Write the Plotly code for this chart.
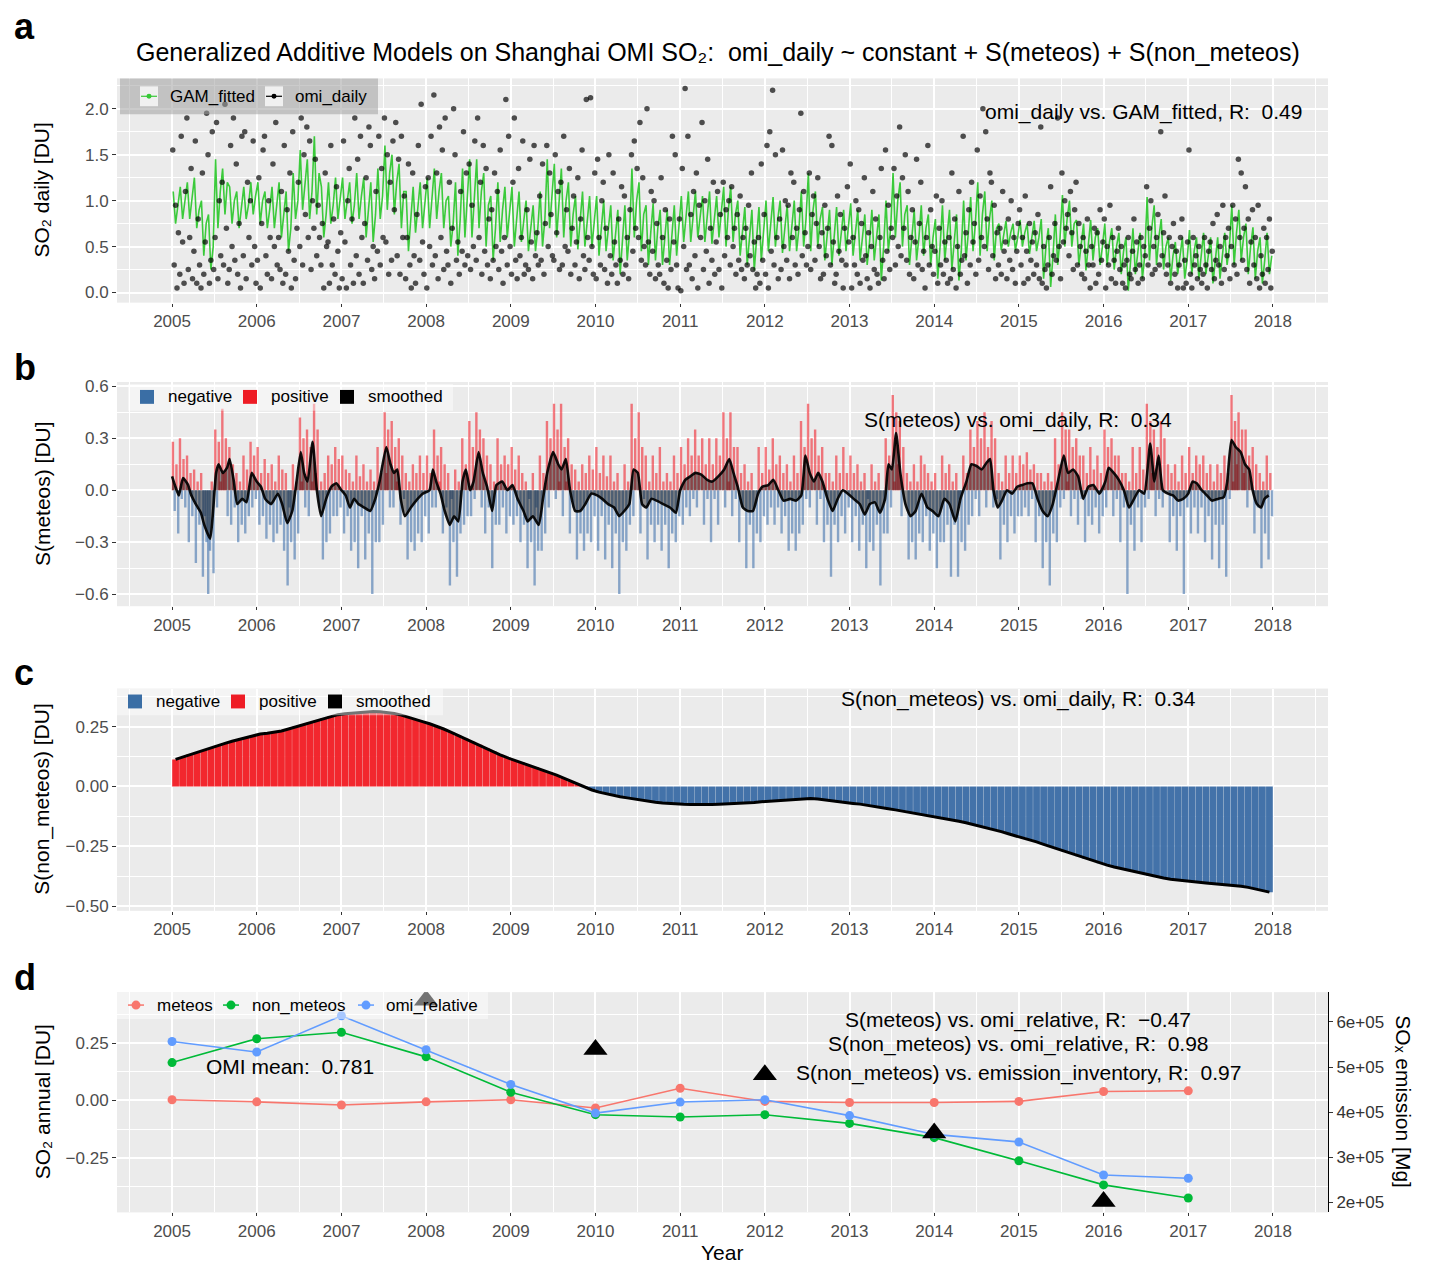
import plotly.graph_objects as go

# ======================= DATA =======================
START_YEAR = 2005
year_ticks = list(range(2005, 2019))

# Panel a: GAM_fitted, 3 values per month (2005-01 .. 2017-12)
gam_fitted = [
    # 2005
    1.10, 0.75, 0.95, 1.15, 0.80, 1.00, 1.20, 0.80, 1.05, 1.25, 0.70, 0.90, 1.00, 0.40, 0.75, 0.85, 0.25, 0.50,
    1.45, 0.70, 1.10, 1.35, 0.85, 1.20, 1.15, 0.75, 1.00, 1.10, 0.70, 0.90, 1.15, 0.80, 0.95, 1.20, 0.85, 1.05,
    # 2006
    1.20, 0.75, 1.00, 1.10, 0.70, 0.90, 1.15, 0.70, 0.95, 1.20, 0.60, 0.85, 1.10, 0.45, 0.70, 1.30, 0.80, 1.00,
    1.55, 0.90, 1.20, 1.45, 0.80, 1.10, 1.70, 0.85, 1.30, 1.15, 0.60, 0.85, 1.20, 0.75, 0.95, 1.25, 0.80, 1.05,
    # 2007
    1.25, 0.80, 1.00, 1.20, 0.75, 0.95, 1.30, 0.80, 1.05, 1.25, 0.60, 0.90, 1.20, 0.55, 0.85, 1.35, 0.80, 1.05,
    1.60, 0.90, 1.30, 1.50, 0.85, 1.20, 1.40, 0.70, 1.10, 1.10, 0.45, 0.80, 1.15, 0.65, 0.90, 1.20, 0.70, 0.95,
    # 2008
    1.25, 0.70, 1.00, 1.35, 0.80, 1.10, 1.30, 0.70, 1.00, 1.05, 0.50, 0.75, 1.20, 0.40, 0.80, 1.35, 0.60, 1.00,
    1.45, 0.60, 1.05, 1.45, 0.70, 1.10, 1.30, 0.50, 0.95, 1.05, 0.35, 0.70, 1.20, 0.55, 0.90, 1.15, 0.60, 0.85,
    # 2009
    1.15, 0.50, 0.85, 1.10, 0.55, 0.80, 1.00, 0.45, 0.70, 0.95, 0.45, 0.70, 1.10, 0.50, 0.80, 1.45, 0.70, 1.05,
    1.40, 0.60, 1.00, 1.35, 0.60, 1.00, 1.20, 0.50, 0.85, 1.05, 0.47, 0.75, 1.10, 0.50, 0.80, 1.05, 0.50, 0.75,
    # 2010
    1.05, 0.40, 0.75, 1.00, 0.45, 0.70, 0.95, 0.35, 0.65, 0.90, 0.20, 0.55, 0.95, 0.35, 0.65, 1.35, 0.60, 1.00,
    1.20, 0.45, 0.85, 0.95, 0.30, 0.65, 0.97, 0.35, 0.70, 0.90, 0.30, 0.60, 0.90, 0.30, 0.60, 0.95, 0.40, 0.70,
    # 2011
    1.05, 0.55, 0.80, 1.10, 0.55, 0.85, 1.10, 0.60, 0.85, 1.05, 0.55, 0.80, 1.10, 0.53, 0.80, 1.05, 0.60, 0.85,
    1.15, 0.50, 0.90, 1.15, 0.55, 0.85, 1.00, 0.40, 0.70, 0.93, 0.30, 0.60, 0.90, 0.24, 0.55, 0.93, 0.35, 0.65,
    # 2012
    1.00, 0.45, 0.75, 1.04, 0.50, 0.80, 1.00, 0.43, 0.70, 0.95, 0.45, 0.70, 1.00, 0.45, 0.70, 1.10, 0.50, 0.80,
    1.30, 0.45, 0.90, 1.10, 0.50, 0.80, 0.93, 0.35, 0.65, 0.90, 0.30, 0.60, 0.93, 0.40, 0.65, 0.90, 0.45, 0.70,
    # 2013
    0.97, 0.40, 0.65, 0.90, 0.35, 0.60, 0.85, 0.30, 0.55, 0.90, 0.35, 0.60, 0.85, 0.13, 0.50, 1.00, 0.45, 0.70,
    1.30, 0.60, 1.00, 1.20, 0.50, 0.85, 0.95, 0.30, 0.60, 0.90, 0.35, 0.60, 0.95, 0.40, 0.70, 0.85, 0.30, 0.60,
    # 2014
    0.80, 0.15, 0.50, 0.95, 0.35, 0.65, 0.90, 0.25, 0.55, 0.85, 0.13, 0.45, 1.00, 0.35, 0.65, 1.04, 0.45, 0.75,
    1.20, 0.40, 0.85, 1.10, 0.45, 0.80, 1.00, 0.35, 0.70, 0.75, 0.46, 0.60, 0.78, 0.50, 0.65, 0.75, 0.46, 0.60,
    # 2015
    0.79, 0.50, 0.65, 0.75, 0.42, 0.60, 0.78, 0.45, 0.60, 0.80, 0.15, 0.50, 0.70, 0.06, 0.40, 0.85, 0.30, 0.60,
    1.06, 0.50, 0.80, 1.00, 0.50, 0.75, 0.79, 0.30, 0.55, 0.75, 0.24, 0.50, 0.79, 0.35, 0.60, 0.70, 0.30, 0.50,
    # 2016
    0.75, 0.30, 0.55, 0.70, 0.25, 0.50, 0.65, 0.20, 0.45, 0.60, 0.02, 0.35, 0.70, 0.20, 0.45, 0.65, 0.15, 0.40,
    1.04, 0.35, 0.70, 0.95, 0.30, 0.60, 0.80, 0.25, 0.50, 0.60, 0.13, 0.40, 0.55, 0.20, 0.40, 0.60, 0.15, 0.35,
    # 2017
    0.68, 0.20, 0.45, 0.60, 0.15, 0.40, 0.65, 0.20, 0.40, 0.60, 0.10, 0.35, 0.60, 0.15, 0.40, 0.65, 0.30, 0.50,
    0.95, 0.30, 0.65, 0.90, 0.35, 0.60, 0.75, 0.20, 0.50, 0.71, 0.15, 0.45, 0.60, 0.10, 0.35, 0.65, 0.20, 0.40,
]

# Panel a: omi_daily observations, 5 per month
omi_daily = [
    # 2005
    1.55, 0.30, 0.95, 0.05, 0.65, 0.20, 1.70, 0.55, 0.10, 1.10, 1.90, 0.25, 0.60, 1.35, 0.15, 0.45, 1.65, 0.10, 0.80, 0.30,
    0.05, 1.30, 0.20, 0.55, 1.95, 1.50, 0.10, 0.35, 1.75, 0.25, 0.60, 1.85, 0.15, 1.00, 0.40, 1.20, 0.30, 2.05, 0.70, 0.10,
    0.25, 1.60, 0.50, 1.90, 0.35, 1.40, 0.20, 0.75, 0.05, 1.70, 0.40, 1.75, 0.15, 1.20, 0.60, 1.00, 0.30, 1.65, 0.50, 0.10,
    # 2006
    0.35, 1.25, 0.05, 0.75, 1.55, 1.70, 0.40, 0.20, 1.00, 0.60, 0.15, 1.40, 0.50, 1.85, 0.30, 0.60, 0.25, 1.10, 0.10, 1.60,
    0.20, 0.90, 0.45, 1.30, 0.05, 1.75, 0.35, 0.15, 0.70, 1.20, 0.50, 1.90, 0.30, 1.50, 0.85, 1.80, 0.60, 1.65, 0.25, 1.00,
    0.70, 1.45, 0.40, 0.95, 0.60, 0.30, 0.75, 0.05, 1.30, 0.50, 0.55, 0.10, 1.60, 0.30, 0.80, 0.20, 1.15, 0.45, 0.05, 0.65,
    # 2007
    0.15, 1.65, 0.55, 0.05, 1.00, 1.35, 0.30, 0.80, 0.10, 1.90, 0.40, 1.45, 0.20, 1.70, 0.60, 0.10, 0.75, 1.25, 0.35, 1.80,
    1.60, 0.25, 0.50, 0.15, 1.10, 0.45, 1.70, 0.30, 1.35, 0.60, 1.90, 0.55, 1.50, 0.20, 1.20, 0.35, 1.65, 0.90, 1.85, 0.40,
    1.45, 0.20, 1.70, 0.60, 1.05, 0.15, 0.60, 1.40, 0.30, 0.05, 1.30, 0.40, 0.10, 0.85, 1.60, 0.35, 2.05, 0.55, 0.20, 1.15,
    # 2008
    0.05, 1.25, 0.50, 1.70, 0.30, 2.15, 0.40, 1.30, 0.15, 1.80, 0.60, 1.55, 0.25, 1.90, 0.45, 0.30, 1.20, 0.10, 0.70, 2.00,
    1.50, 0.35, 0.55, 0.20, 1.10, 0.45, 1.75, 0.30, 1.30, 0.40, 1.40, 0.25, 0.95, 0.50, 1.65, 0.35, 1.90, 0.60, 1.20, 0.20,
    1.60, 0.45, 1.35, 0.30, 0.80, 0.15, 0.90, 0.35, 1.30, 0.50, 1.10, 0.25, 1.55, 0.45, 0.10, 0.60, 2.10, 0.30, 1.70, 0.50,
    # 2009
    0.20, 1.20, 1.90, 0.35, 0.15, 1.35, 0.40, 0.60, 1.65, 0.20, 0.30, 0.90, 0.25, 1.45, 0.55, 0.15, 1.60, 0.40, 0.65, 0.30,
    1.05, 0.35, 1.40, 0.20, 0.75, 1.60, 0.50, 1.30, 0.85, 0.40, 0.35, 1.50, 0.65, 1.10, 0.25, 1.20, 0.30, 1.70, 0.50, 0.90,
    0.45, 1.35, 0.20, 0.70, 1.05, 0.30, 0.55, 1.25, 0.15, 0.80, 1.55, 0.40, 0.25, 2.10, 0.60, 0.35, 2.12, 0.50, 0.20, 1.30,
    # 2010
    0.15, 1.45, 0.60, 0.30, 1.00, 1.20, 0.25, 0.70, 0.10, 1.50, 0.40, 0.20, 1.30, 0.55, 0.30, 0.10, 0.80, 0.35, 1.15, 0.20,
    1.05, 0.30, 0.60, 0.15, 0.90, 1.50, 0.45, 1.65, 0.70, 1.35, 0.60, 1.85, 0.35, 1.25, 0.50, 0.30, 2.00, 0.55, 0.20, 1.10,
    0.45, 1.00, 0.15, 0.75, 0.30, 0.20, 1.25, 0.60, 0.10, 0.90, 0.35, 0.05, 0.80, 0.25, 1.70, 0.55, 1.50, 0.30, 0.05, 0.80,
    # 2011
    0.02, 1.35, 0.50, 2.22, 0.25, 1.70, 0.30, 0.85, 0.15, 1.10, 0.40, 1.30, 0.05, 0.95, 0.60, 1.85, 0.25, 1.00, 0.45, 1.45,
    0.10, 0.70, 0.35, 1.20, 0.20, 0.55, 1.10, 0.25, 0.85, 0.05, 1.20, 0.40, 0.90, 0.60, 1.00, 0.30, 1.15, 0.50, 0.70, 0.20,
    0.85, 0.35, 1.05, 0.25, 0.60, 0.15, 0.70, 0.30, 0.95, 0.40, 1.30, 0.25, 0.55, 0.05, 0.20, 0.60, 0.10, 1.40, 0.35, 0.85,
    # 2012
    0.20, 1.60, 0.05, 1.75, 0.45, 2.20, 0.30, 1.50, 0.60, 0.15, 0.80, 0.25, 1.55, 0.50, 1.00, 0.35, 0.95, 0.15, 1.30, 0.60,
    1.20, 0.30, 0.70, 0.20, 0.90, 1.95, 0.40, 1.10, 0.65, 0.30, 0.50, 1.30, 0.25, 0.85, 1.05, 0.35, 0.75, 1.25, 0.50, 0.15,
    0.65, 0.20, 0.95, 0.40, 0.70, 1.70, 0.30, 1.60, 0.55, 0.10, 0.20, 1.05, 0.45, 0.85, 0.35, 0.05, 0.70, 0.30, 1.15, 0.55,
    # 2013
    1.40, 0.05, 0.60, 0.30, 1.00, 0.20, 0.90, 0.10, 0.75, 0.35, 1.25, 0.40, 0.15, 0.65, 0.05, 0.50, 1.10, 0.25, 0.80, 0.20,
    0.10, 0.60, 1.35, 0.35, 0.15, 1.55, 0.45, 0.95, 0.25, 0.70, 0.60, 1.35, 0.30, 1.05, 0.50, 1.80, 0.40, 1.25, 0.70, 1.50,
    0.35, 1.10, 0.20, 0.60, 0.90, 0.15, 0.55, 1.45, 0.30, 0.75, 1.20, 0.25, 0.45, 0.05, 0.60, 1.60, 0.30, 0.90, 0.50, 0.20,
    # 2014
    0.45, 1.05, 0.10, 0.70, 0.30, 1.00, 0.20, 0.55, 0.35, 0.10, 0.60, 0.15, 1.30, 0.25, 0.80, 0.05, 0.50, 1.10, 0.20, 0.35,
    1.70, 0.40, 0.65, 0.10, 0.90, 0.30, 1.20, 0.55, 0.75, 0.20, 1.55, 0.35, 1.05, 0.60, 2.00, 0.50, 1.75, 0.80, 0.25, 1.30,
    1.20, 0.40, 0.95, 0.15, 0.65, 0.30, 0.70, 0.20, 1.10, 0.45, 0.55, 0.15, 0.80, 0.35, 1.00, 0.25, 0.60, 0.10, 0.45, 0.75,
    # 2015
    0.90, 0.30, 0.60, 0.10, 1.05, 0.45, 0.15, 0.75, 0.35, 0.55, 0.20, 0.65, 0.30, 0.85, 0.15, 1.80, 0.10, 0.50, 0.25, 0.05,
    0.30, 0.60, 1.15, 0.20, 0.40, 0.75, 0.35, 1.90, 0.50, 0.15, 1.30, 0.55, 1.00, 0.70, 0.85, 0.40, 1.10, 0.65, 0.25, 0.90,
    1.20, 0.30, 0.75, 0.50, 0.20, 0.60, 0.15, 0.45, 0.80, 0.30, 0.05, 0.50, 0.30, 0.70, 0.10, 0.65, 0.20, 0.90, 0.35, 0.55,
    # 2016
    0.80, 0.05, 0.50, 0.30, 0.95, 0.15, 0.60, 0.35, 0.10, 0.45, 0.70, 0.25, 0.50, 0.10, 0.30, 0.05, 0.35, 0.60, 0.20, 0.15,
    0.45, 0.80, 0.25, 0.55, 0.10, 0.30, 0.60, 0.15, 0.50, 0.40, 1.15, 0.30, 0.70, 1.00, 0.20, 0.50, 0.25, 0.60, 0.85, 0.30,
    1.75, 0.40, 0.65, 1.05, 0.20, 0.30, 0.60, 0.10, 0.50, 0.75, 0.20, 0.45, 0.05, 0.30, 0.60, 0.80, 0.05, 0.35, 0.10, 0.55,
    # 2017
    1.55, 0.20, 0.05, 0.60, 0.30, 0.40, 0.15, 0.50, 0.25, 0.10, 0.20, 0.60, 0.30, 0.05, 0.45, 0.55, 0.25, 0.75, 0.15, 0.35,
    0.85, 0.30, 0.50, 0.10, 0.95, 0.25, 0.60, 0.40, 0.70, 0.15, 0.50, 0.95, 0.30, 0.80, 0.20, 1.45, 0.60, 1.30, 0.35, 0.70,
    1.15, 0.25, 0.80, 0.10, 0.55, 0.90, 0.30, 0.60, 0.15, 0.95, 0.05, 0.40, 0.20, 0.70, 0.10, 0.60, 0.25, 0.80, 0.05, 0.45,
]

# Panel b: S(meteos) daily contributions, 4 per month
meteos_daily = [
    # 2005
    0.28, -0.12, 0.15, -0.25, 0.30, -0.05, 0.18, -0.10, 0.20, -0.30, 0.10, -0.15, 0.12, -0.42, 0.05, -0.20,
    0.10, -0.50, -0.15, -0.30, -0.60, -0.35, 0.05, -0.48, 0.35, -0.10, 0.28, 0.05, 0.47, 0.10, 0.30, -0.15,
    0.25, -0.20, 0.15, -0.10, 0.10, -0.30, 0.05, -0.20, 0.20, -0.25, 0.12, -0.15, 0.28, -0.10, 0.20, -0.05,
    # 2006
    0.25, -0.20, 0.10, -0.15, 0.18, -0.28, 0.10, -0.20, 0.15, -0.30, 0.05, -0.25, 0.20, -0.20, 0.12, -0.35,
    0.10, -0.55, -0.10, -0.30, 0.15, -0.40, 0.05, -0.25, 0.42, 0.05, 0.30, -0.10, 0.35, -0.15, 0.25, 0.05,
    0.50, 0.10, 0.35, -0.10, 0.05, -0.40, 0.10, -0.30, 0.20, -0.25, 0.15, -0.15, 0.25, -0.15, 0.18, -0.10,
    # 2007
    0.20, -0.25, 0.12, -0.15, 0.10, -0.35, 0.05, -0.30, 0.20, -0.45, 0.08, -0.15, 0.15, -0.40, 0.05, -0.25,
    0.12, -0.60, 0.05, -0.30, 0.25, -0.30, 0.10, -0.20, 0.45, 0.10, 0.35, -0.10, 0.40, -0.10, 0.25, 0.05,
    0.30, -0.20, 0.20, -0.05, 0.10, -0.40, 0.05, -0.30, 0.15, -0.35, 0.10, -0.25, 0.20, -0.30, 0.10, -0.15,
    # 2008
    0.20, -0.25, 0.10, -0.10, 0.35, -0.10, 0.20, 0.05, 0.25, -0.25, 0.15, -0.10, 0.10, -0.55, -0.05, -0.30,
    0.12, -0.50, 0.05, -0.25, 0.30, -0.20, 0.15, -0.15, 0.40, -0.15, 0.25, -0.05, 0.45, 0.00, 0.35, -0.10,
    0.30, -0.25, 0.20, -0.10, 0.15, -0.45, 0.05, -0.20, 0.30, -0.20, 0.15, -0.10, 0.20, -0.25, 0.15, -0.15,
    # 2009
    0.25, -0.20, 0.12, -0.15, 0.20, -0.30, 0.10, -0.20, 0.05, -0.45, -0.05, -0.30, 0.10, -0.55, -0.10, -0.35,
    0.20, -0.35, 0.10, -0.25, 0.40, -0.10, 0.30, 0.00, 0.50, -0.05, 0.35, 0.05, 0.50, -0.15, 0.25, 0.05,
    0.30, -0.25, 0.15, -0.10, 0.12, -0.40, 0.05, -0.25, 0.15, -0.35, 0.10, -0.25, 0.20, -0.30, 0.12, -0.15,
    # 2010
    0.25, -0.35, 0.10, -0.15, 0.20, -0.40, 0.08, -0.20, 0.20, -0.45, 0.05, -0.25, 0.10, -0.60, 0.00, -0.30,
    0.15, -0.35, 0.05, -0.20, 0.50, -0.15, 0.30, 0.00, 0.45, -0.25, 0.25, -0.05, 0.20, -0.40, 0.05, -0.20,
    0.20, -0.30, 0.10, -0.20, 0.25, -0.35, 0.05, -0.20, 0.10, -0.45, 0.05, -0.25, 0.20, -0.30, 0.10, -0.15,
    # 2011
    0.25, -0.20, 0.15, -0.10, 0.30, -0.15, 0.20, -0.05, 0.35, -0.10, 0.20, 0.00, 0.30, -0.20, 0.15, -0.05,
    0.30, -0.30, 0.15, -0.05, 0.30, -0.20, 0.20, 0.00, 0.45, -0.10, 0.30, 0.05, 0.45, -0.15, 0.25, -0.05,
    0.25, -0.30, 0.10, -0.10, 0.15, -0.45, 0.05, -0.20, 0.10, -0.45, 0.00, -0.25, 0.25, -0.30, 0.10, -0.15,
    # 2012
    0.25, -0.20, 0.12, -0.10, 0.30, -0.20, 0.15, -0.10, 0.20, -0.25, 0.10, -0.15, 0.15, -0.35, 0.05, -0.25,
    0.20, -0.35, 0.10, -0.25, 0.40, -0.20, 0.25, -0.05, 0.50, -0.10, 0.30, 0.00, 0.35, -0.20, 0.20, -0.05,
    0.25, -0.30, 0.10, -0.20, 0.10, -0.50, 0.05, -0.20, 0.20, -0.30, 0.10, -0.15, 0.25, -0.25, 0.10, -0.10,
    # 2013
    0.20, -0.30, 0.10, -0.15, 0.15, -0.35, 0.05, -0.20, 0.10, -0.45, -0.05, -0.30, 0.15, -0.35, 0.05, -0.20,
    0.10, -0.55, 0.00, -0.25, 0.30, -0.25, 0.20, -0.10, 0.55, 0.05, 0.45, 0.15, 0.40, -0.15, 0.25, 0.00,
    0.10, -0.40, 0.05, -0.30, 0.15, -0.40, 0.05, -0.25, 0.20, -0.30, 0.15, -0.15, 0.10, -0.35, 0.05, -0.25,
    # 2014
    0.10, -0.45, 0.00, -0.30, 0.20, -0.30, 0.10, -0.20, 0.15, -0.50, 0.05, -0.20, 0.10, -0.50, -0.05, -0.30,
    0.20, -0.35, 0.10, -0.20, 0.35, -0.15, 0.25, -0.05, 0.40, -0.15, 0.30, 0.00, 0.45, -0.10, 0.25, 0.00,
    0.40, -0.10, 0.30, -0.05, 0.10, -0.40, 0.05, -0.20, 0.20, -0.30, 0.10, -0.15, 0.20, -0.25, 0.10, -0.15,
    # 2015
    0.20, -0.15, 0.15, -0.10, 0.22, -0.15, 0.12, -0.05, 0.15, -0.30, 0.10, -0.15, 0.10, -0.45, 0.05, -0.30,
    0.10, -0.55, 0.05, -0.25, 0.30, -0.30, 0.15, -0.10, 0.45, -0.05, 0.35, 0.05, 0.35, -0.15, 0.25, -0.05,
    0.30, -0.20, 0.20, -0.05, 0.20, -0.30, 0.10, -0.15, 0.25, -0.20, 0.12, -0.10, 0.20, -0.25, 0.10, -0.15,
    # 2016
    0.35, -0.10, 0.25, 0.00, 0.30, -0.15, 0.20, -0.05, 0.20, -0.30, 0.10, -0.10, 0.10, -0.60, 0.05, -0.20,
    0.25, -0.35, 0.10, -0.10, 0.25, -0.30, 0.12, -0.10, 0.50, -0.05, 0.40, 0.10, 0.35, -0.15, 0.25, -0.05,
    0.40, -0.10, 0.30, 0.00, 0.15, -0.30, 0.10, -0.15, 0.15, -0.35, 0.05, -0.15, 0.20, -0.60, 0.10, -0.10,
    # 2017
    0.25, -0.25, 0.10, -0.10, 0.20, -0.25, 0.15, -0.10, 0.20, -0.30, 0.10, -0.15, 0.15, -0.40, 0.05, -0.20,
    0.15, -0.45, 0.10, -0.20, 0.20, -0.50, 0.10, -0.05, 0.55, 0.05, 0.40, 0.15, 0.45, 0.00, 0.35, 0.10,
    0.35, -0.10, 0.20, 0.00, 0.25, -0.25, 0.15, -0.10, 0.10, -0.45, 0.05, -0.25, 0.20, -0.40, 0.10, -0.15,
]

# Panel b: smoothed S(meteos), knots (decimal year, value)
meteos_smoothed = [
    (2005.00, 0.08), (2005.04, 0.02), (2005.08, -0.03), (2005.13, 0.07), (2005.19, 0.03), (2005.22, -0.02),
    (2005.28, -0.08), (2005.34, -0.13), (2005.38, -0.20), (2005.45, -0.28), (2005.48, -0.15), (2005.52, 0.10),
    (2005.55, 0.15), (2005.60, 0.10), (2005.65, 0.13), (2005.68, 0.18), (2005.73, 0.05), (2005.77, -0.08),
    (2005.83, -0.05), (2005.88, -0.07), (2005.94, 0.10), (2006.00, 0.05),
    (2006.05, 0.02), (2006.10, -0.05), (2006.17, -0.08), (2006.25, -0.02), (2006.30, -0.08), (2006.36, -0.19),
    (2006.42, -0.12), (2006.47, 0.05), (2006.52, 0.22), (2006.56, 0.10), (2006.60, 0.05), (2006.66, 0.28),
    (2006.71, 0.00), (2006.76, -0.15), (2006.82, -0.05), (2006.88, 0.02), (2006.94, 0.04), (2007.00, 0.00),
    (2007.05, -0.03), (2007.10, -0.10), (2007.15, -0.05), (2007.20, -0.08), (2007.27, -0.10), (2007.34, -0.12),
    (2007.40, -0.05), (2007.45, 0.05), (2007.53, 0.25), (2007.58, 0.15), (2007.62, 0.10), (2007.66, 0.12),
    (2007.70, -0.05), (2007.75, -0.15), (2007.82, -0.10), (2007.90, -0.05), (2007.96, -0.02),
    (2008.04, 0.00), (2008.08, 0.12), (2008.12, 0.05), (2008.17, -0.02), (2008.22, -0.12), (2008.28, -0.20),
    (2008.33, -0.15), (2008.38, -0.18), (2008.43, 0.05), (2008.47, 0.12), (2008.52, 0.00), (2008.56, 0.05),
    (2008.62, 0.22), (2008.67, 0.10), (2008.72, 0.02), (2008.78, -0.12), (2008.83, 0.03), (2008.90, 0.05),
    (2008.96, 0.00),
    (2009.02, 0.03), (2009.08, -0.05), (2009.15, -0.12), (2009.20, -0.18), (2009.26, -0.15), (2009.33, -0.20),
    (2009.38, -0.05), (2009.43, 0.10), (2009.50, 0.22), (2009.56, 0.15), (2009.60, 0.12), (2009.65, 0.18),
    (2009.70, 0.00), (2009.76, -0.12), (2009.82, -0.12), (2009.88, -0.08), (2009.95, -0.02),
    (2010.02, -0.03), (2010.08, -0.05), (2010.15, -0.08), (2010.22, -0.10), (2010.28, -0.15), (2010.34, -0.12),
    (2010.40, -0.08), (2010.45, 0.12), (2010.50, 0.10), (2010.55, -0.08), (2010.60, -0.10), (2010.66, -0.05),
    (2010.72, -0.06), (2010.80, -0.08), (2010.88, -0.10), (2010.95, -0.13), (2011.00, 0.00),
    (2011.06, 0.06), (2011.12, 0.08), (2011.18, 0.10), (2011.25, 0.09), (2011.32, 0.06), (2011.38, 0.05),
    (2011.45, 0.08), (2011.52, 0.12), (2011.58, 0.18), (2011.63, 0.10), (2011.68, 0.02), (2011.74, -0.10),
    (2011.80, -0.12), (2011.86, -0.12), (2011.92, -0.02), (2011.97, 0.02),
    (2012.04, 0.03), (2012.10, 0.06), (2012.16, 0.00), (2012.22, -0.06), (2012.30, -0.05), (2012.37, -0.06),
    (2012.43, -0.03), (2012.48, 0.20), (2012.53, 0.10), (2012.58, 0.05), (2012.63, 0.10), (2012.68, 0.05),
    (2012.74, -0.05), (2012.80, -0.12), (2012.86, -0.05), (2012.92, 0.00), (2012.98, -0.02),
    (2013.05, -0.05), (2013.12, -0.08), (2013.18, -0.14), (2013.24, -0.08), (2013.30, -0.07), (2013.36, -0.13),
    (2013.42, -0.05), (2013.46, 0.15), (2013.50, 0.12), (2013.55, 0.33), (2013.60, 0.10), (2013.66, -0.08),
    (2013.72, -0.15), (2013.78, -0.12), (2013.85, -0.02), (2013.92, -0.10), (2013.98, -0.12),
    (2014.05, -0.15), (2014.12, -0.05), (2014.18, -0.08), (2014.25, -0.18), (2014.31, -0.05), (2014.38, 0.05),
    (2014.44, 0.15), (2014.50, 0.14), (2014.56, 0.12), (2014.62, 0.16), (2014.66, 0.18), (2014.70, 0.00),
    (2014.75, -0.10), (2014.80, -0.06), (2014.86, 0.00), (2014.92, -0.02), (2014.98, 0.02),
    (2015.04, 0.03), (2015.10, 0.04), (2015.16, 0.04), (2015.22, -0.05), (2015.28, -0.12), (2015.34, -0.15),
    (2015.40, -0.08), (2015.46, 0.05), (2015.53, 0.20), (2015.58, 0.10), (2015.64, 0.12), (2015.70, 0.08),
    (2015.76, -0.05), (2015.82, 0.02), (2015.88, 0.03), (2015.95, -0.02),
    (2016.02, 0.05), (2016.06, 0.13), (2016.12, 0.10), (2016.18, 0.06), (2016.24, 0.00), (2016.30, -0.10),
    (2016.36, -0.05), (2016.42, 0.00), (2016.48, -0.02), (2016.55, 0.27), (2016.60, 0.05), (2016.65, 0.20),
    (2016.70, 0.00), (2016.76, -0.02), (2016.82, -0.03), (2016.88, -0.06), (2016.94, -0.05), (2017.00, -0.02),
    (2017.05, 0.05), (2017.10, 0.04), (2017.16, 0.00), (2017.22, -0.03), (2017.28, -0.06), (2017.35, -0.05),
    (2017.42, -0.04), (2017.46, 0.05), (2017.51, 0.29), (2017.56, 0.25), (2017.62, 0.22), (2017.67, 0.15),
    (2017.72, 0.12), (2017.76, 0.00), (2017.81, -0.08), (2017.86, -0.10), (2017.90, -0.05), (2017.95, -0.03),
]

# Panel c: S(non_meteos), monthly
non_meteos = [
    0.113, 0.123, 0.133, 0.143, 0.152, 0.161, 0.171, 0.180, 0.189, 0.197, 0.205, 0.213,
    0.219, 0.222, 0.226, 0.232, 0.240, 0.249, 0.258, 0.266, 0.275, 0.285, 0.293, 0.300,
    0.304, 0.307, 0.310, 0.312, 0.313, 0.312, 0.309, 0.305, 0.298, 0.290, 0.281, 0.271,
    0.262, 0.252, 0.240, 0.227, 0.213, 0.200, 0.187, 0.174, 0.160, 0.146, 0.132, 0.120,
    0.110, 0.100, 0.090, 0.080, 0.069, 0.058, 0.047, 0.035, 0.022, 0.009, -0.004, -0.015,
    -0.024, -0.031, -0.037, -0.043, -0.048, -0.053, -0.058, -0.062, -0.066, -0.069, -0.072, -0.074,
    -0.075, -0.076, -0.077, -0.077, -0.076, -0.075, -0.074, -0.073, -0.071, -0.069, -0.067, -0.064,
    -0.062, -0.060, -0.058, -0.056, -0.054, -0.052, -0.051, -0.053, -0.057, -0.062, -0.066, -0.069,
    -0.071, -0.074, -0.078, -0.082, -0.087, -0.093, -0.098, -0.103, -0.108, -0.113, -0.119, -0.124,
    -0.129, -0.134, -0.140, -0.146, -0.152, -0.159, -0.166, -0.173, -0.181, -0.189, -0.198, -0.206,
    -0.214, -0.223, -0.232, -0.242, -0.252, -0.262, -0.272, -0.282, -0.292, -0.302, -0.312, -0.321,
    -0.329, -0.337, -0.344, -0.351, -0.358, -0.365, -0.372, -0.378, -0.383, -0.388, -0.392, -0.395,
    -0.398, -0.401, -0.404, -0.406, -0.408, -0.410, -0.413, -0.417, -0.422, -0.428, -0.435, -0.442,
]

# Panel d: annual values
annual_years = list(range(2005, 2018))
meteos_annual = [0.003, -0.006, -0.020, -0.006, 0.003, -0.033, 0.053, -0.004, -0.009, -0.009, -0.004, 0.039, 0.042]
non_meteos_annual = [0.165, 0.269, 0.297, 0.190, 0.036, -0.062, -0.072, -0.062, -0.100, -0.162, -0.263, -0.368, -0.425]
omi_relative_annual = [0.257, 0.211, 0.369, 0.221, 0.070, -0.055, -0.007, 0.003, -0.066, -0.148, -0.181, -0.325, -0.339]
emission_years = [2008, 2010, 2012, 2014, 2016]
emission_inventory = [6.48e5, 5.39e5, 4.83e5, 3.54e5, 2.02e5]
emission_ticks = [2e5, 3e5, 4e5, 5e5, 6e5]
emission_ticktext = ["2e+05", "3e+05", "4e+05", "5e+05", "6e+05"]

omi_mean = 0.781
r_gam = 0.49
r_meteos_daily = 0.34
r_nonmeteos_daily = 0.34
r_meteos_rel = -0.47
r_nonmeteos_rel = 0.98
r_nonmeteos_emis = 0.97

# ======================= STYLE / LAYOUT =======================
W, H = 1431, 1270
FONT = "Liberation Sans, Arial, Helvetica, sans-serif"
PANEL_BG = "#EBEBEB"
TICK_COL = "#4D4D4D"
XL, XR = 117, 1328
PANELS = {"a": (74, 300), "b": (380, 606), "c": (689, 913), "d": (995, 1217)}


def px(x):
    return x / W


def py(y):
    return 1 - y / H


def times(values, per_year):
    return [START_YEAR + (i + 0.5) / per_year for i in range(len(values))]


fig = go.Figure()

# ---- panel a ----
t_gam = times(gam_fitted, 36)
t_omi = times(omi_daily, 60)
fig.add_trace(go.Scatter(x=t_gam, y=gam_fitted, mode="lines",
                         line=dict(color="rgba(50,200,50,0.95)", width=1.6),
                         xaxis="x", yaxis="y", showlegend=False, hoverinfo="skip"))
fig.add_trace(go.Scatter(x=t_omi, y=omi_daily, mode="markers",
                         marker=dict(color="rgba(0,0,0,0.68)", size=5.5, line=dict(width=0)),
                         xaxis="x", yaxis="y", showlegend=False, hoverinfo="skip"))

# ---- panel b ----
t_met = times(meteos_daily, 48)
pos_x, pos_y, neg_x, neg_y = [], [], [], []
for t, v in zip(t_met, meteos_daily):
    if v >= 0:
        pos_x += [t, t, None]
        pos_y += [0, v, None]
    else:
        neg_x += [t, t, None]
        neg_y += [0, v, None]
fig.add_trace(go.Scatter(x=pos_x, y=pos_y, mode="lines", line=dict(color="rgba(240,30,40,0.58)", width=2.4),
                         xaxis="x2", yaxis="y2", showlegend=False, hoverinfo="skip"))
fig.add_trace(go.Scatter(x=neg_x, y=neg_y, mode="lines", line=dict(color="rgba(60,110,170,0.58)", width=2.4),
                         xaxis="x2", yaxis="y2", showlegend=False, hoverinfo="skip"))
sm_t = [p[0] for p in meteos_smoothed]
sm_v = [p[1] for p in meteos_smoothed]
fig.add_trace(go.Scatter(x=sm_t, y=sm_v, mode="lines", fill="tozeroy", fillcolor="rgba(0,0,0,0.42)",
                         line=dict(color="rgba(0,0,0,0.92)", width=2.6, shape="spline", smoothing=0.5),
                         xaxis="x2", yaxis="y2", showlegend=False, hoverinfo="skip"))

# ---- panel c ----
t_non = times(non_meteos, 12)
fig.add_trace(go.Bar(x=t_non, y=non_meteos, width=0.96 / 12,
                     marker=dict(color=["rgba(242,28,36,0.95)" if v > 0 else "rgba(58,108,165,0.95)" for v in non_meteos],
                                 line=dict(width=0)),
                     xaxis="x3", yaxis="y3", showlegend=False, hoverinfo="skip"))
fig.add_trace(go.Scatter(x=t_non, y=non_meteos, mode="lines", line=dict(color="black", width=3),
                         xaxis="x3", yaxis="y3", showlegend=False, hoverinfo="skip"))

# ---- panel d ----
for vals, col in [(meteos_annual, "#F8766D"), (non_meteos_annual, "#00BA38"), (omi_relative_annual, "#619CFF")]:
    fig.add_trace(go.Scatter(x=annual_years, y=vals, mode="lines+markers",
                             line=dict(color=col, width=1.6), marker=dict(color=col, size=9),
                             xaxis="x4", yaxis="y4", showlegend=False, hoverinfo="skip"))
fig.add_trace(go.Scatter(x=emission_years, y=emission_inventory, mode="markers",
                         marker=dict(symbol="triangle-up", color="black", size=21, line=dict(width=0)),
                         xaxis="x4", yaxis="y5", showlegend=False, hoverinfo="skip"))


def xaxis_def(anchor):
    return dict(domain=[px(XL), px(XR)], anchor=anchor, range=[2004.35, 2018.65],
                tickmode="array", tickvals=year_ticks, ticktext=[str(y) for y in year_ticks],
                showgrid=True, gridcolor="white", gridwidth=1.6,
                minor=dict(tickmode="array", tickvals=[y + 0.5 for y in range(2004, 2019)],
                           showgrid=True, gridcolor="white", gridwidth=0.8, ticks=""),
                ticks="outside", ticklen=3, tickwidth=1, tickcolor="#333333",
                tickfont=dict(size=17, color=TICK_COL, family=FONT),
                zeroline=False, showline=False)


def yaxis_def(anchor, key, rng, tick0, dtick, fmt):
    top, bot = PANELS[key]
    return dict(domain=[py(bot), py(top)], anchor=anchor, range=rng,
                tickmode="linear", tick0=tick0, dtick=dtick, tickformat=fmt,
                showgrid=True, gridcolor="white", gridwidth=1.6,
                minor=dict(tickmode="linear", tick0=tick0 + dtick / 2, dtick=dtick,
                           showgrid=True, gridcolor="white", gridwidth=0.8, ticks=""),
                ticks="outside", ticklen=4, tickwidth=1, tickcolor="#333333",
                tickfont=dict(size=17, color=TICK_COL, family=FONT),
                zeroline=False, showline=False)


layout = dict(
    width=W, height=H, autosize=False,
    margin=dict(l=0, r=0, t=0, b=0),
    paper_bgcolor="white", plot_bgcolor=PANEL_BG,
    font=dict(family=FONT, color="black"),
    showlegend=False,
    barmode="overlay",
    xaxis=xaxis_def("y"),
    xaxis2=xaxis_def("y2"),
    xaxis3=xaxis_def("y3"),
    xaxis4=xaxis_def("y4"),
    yaxis=yaxis_def("x", "a", [-0.11, 2.33], 0, 0.5, ".1f"),
    yaxis2=yaxis_def("x2", "b", [-0.67, 0.625], -0.6, 0.3, ".1f"),
    yaxis3=yaxis_def("x3", "c", [-0.52, 0.409], -0.5, 0.25, ".2f"),
    yaxis4=yaxis_def("x4", "d", [-0.488, 0.472], -0.25, 0.25, ".2f"),
)
layout["yaxis5"] = dict(overlaying="y4", side="right", anchor="x4", range=[1.78e5, 6.66e5],
                        tickmode="array", tickvals=emission_ticks, ticktext=emission_ticktext,
                        showgrid=False, zeroline=False, showline=True, linecolor="black", linewidth=1,
                        ticks="outside", ticklen=4, tickcolor="#333333",
                        tickfont=dict(size=17, color="#333333", family=FONT))
fig.update_layout(**layout)

shapes = []
annots = []


def rect(x0, y0, x1, y1, fill):
    shapes.append(dict(type="rect", xref="paper", yref="paper", x0=px(x0), x1=px(x1), y0=py(y1), y1=py(y0),
                       fillcolor=fill, line=dict(width=0), layer="above"))


def circle(cx, cy, r, fill):
    shapes.append(dict(type="circle", xref="paper", yref="paper", x0=px(cx - r), x1=px(cx + r),
                       y0=py(cy + r), y1=py(cy - r), fillcolor=fill, line=dict(width=0), layer="above"))


def hline(x0, x1, y, col, w):
    shapes.append(dict(type="line", xref="paper", yref="paper", x0=px(x0), x1=px(x1), y0=py(y), y1=py(y),
                       line=dict(color=col, width=w), layer="above"))


def text(x, y, s, size, anchor="left", color="black", angle=0, weight="normal"):
    annots.append(dict(xref="paper", yref="paper", x=px(x), y=py(y), text=s,
                       showarrow=False, xanchor=anchor, yanchor="middle", textangle=angle,
                       font=dict(size=size, color=color, family=FONT, weight=weight)))


# legends
rect(120, 74, 378, 110, "rgba(160,160,160,0.55)")
rect(140, 82, 158, 102, "rgba(245,245,245,0.9)")
rect(265, 82, 283, 102, "rgba(245,245,245,0.9)")
hline(141, 157, 92, "rgb(55,200,55)", 1.2)
circle(149, 92, 2.5, "rgb(55,200,55)")
hline(266, 282, 92, "black", 1.2)
circle(274, 92, 2.5, "black")
text(168, 92, "GAM_fitted", 17)
text(293, 92, "omi_daily", 17)

rect(128, 382, 453, 409, "rgba(255,255,255,0.45)")
rect(140, 388, 154, 402, "#3A6EA5")
rect(243, 388, 257, 402, "#EE1C25")
rect(340, 388, 354, 402, "black")
text(166, 395, "negative", 17)
text(269, 395, "positive", 17)
text(366, 395, "smoothed", 17)

rect(117, 689, 443, 716, "rgba(255,255,255,0.45)")
rect(128, 695, 142, 709, "#3A6EA5")
rect(231, 695, 245, 709, "#EE1C25")
rect(328, 695, 342, 709, "black")
text(154, 702, "negative", 17)
text(257, 702, "positive", 17)
text(354, 702, "smoothed", 17)

rect(117, 995, 488, 1022, "rgba(255,255,255,0.45)")
for cx, col in [(136, "#F8766D"), (231, "#00BA38"), (366, "#619CFF")]:
    hline(cx - 8, cx + 8, 1008, col, 1.5)
    circle(cx, 1008, 4.5, col)
text(155, 1008, "meteos", 17)
text(250, 1008, "non_meteos", 17)
text(384, 1008, "omi_relative", 17)

# title, panel letters, stats
text(718, 47, "Generalized Additive Models on Shanghai OMI SO\u2082:  omi_daily ~ constant + S(meteos) + S(non_meteos)",
     25, anchor="center")
for letter, yy in [("a", 22), ("b", 365), ("c", 673), ("d", 980)]:
    text(12, yy, letter, 36, weight="bold")
text(1143, 108, "omi_daily vs. GAM_fitted, R:  %.2f" % r_gam, 21, anchor="center")
text(1018, 418, "S(meteos) vs. omi_daily, R:  %.2f" % r_meteos_daily, 21, anchor="center")
text(1018, 700, "S(non_meteos) vs. omi_daily, R:  %.2f" % r_nonmeteos_daily, 21, anchor="center")
text(1018, 1023, "S(meteos) vs. omi_relative, R:  \u2212%.2f" % abs(r_meteos_rel), 21, anchor="center")
text(1018, 1047, "S(non_meteos) vs. omi_relative, R:  %.2f" % r_nonmeteos_rel, 21, anchor="center")
text(1018, 1076, "S(non_meteos) vs. emission_inventory, R:  %.2f" % r_nonmeteos_emis, 21, anchor="center")
text(290, 1070, "OMI mean:  %.3f" % omi_mean, 21, anchor="center")

# axis titles
text(42, 187, "SO\u2082 daily [DU]", 21, anchor="center", angle=-90)
text(42, 493, "S(meteos) [DU]", 21, anchor="center", angle=-90)
text(42, 801, "S(non_meteos) [DU]", 21, anchor="center", angle=-90)
text(42, 1106, "SO\u2082 annual [DU]", 21, anchor="center", angle=-90)
text(1404, 1105, "SO\u2093 emission [Mg]", 21, anchor="center", angle=90)
text(722, 1257, "Year", 21, anchor="center")

fig.update_layout(shapes=shapes, annotations=annots)
fig.write_html("out.html")
